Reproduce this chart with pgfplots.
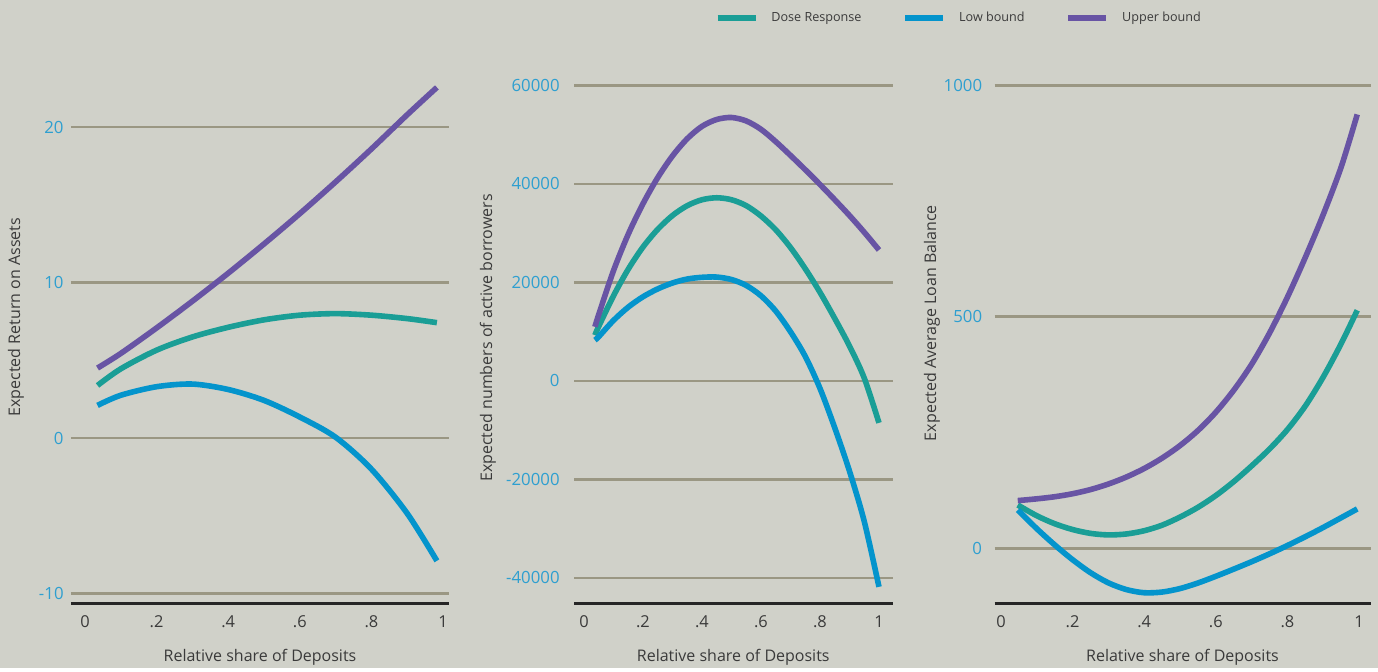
\documentclass[border=0pt]{standalone}
\usepackage{pgfplots}
\pgfplotsset{compat=1.18}
\usepackage{fontspec}
\setmainfont{Open Sans}
\definecolor{bgc}{HTML}{D0D1C9}
\definecolor{gridc}{HTML}{9A9783}
\definecolor{dose}{HTML}{1A9E96}
\definecolor{low}{HTML}{0494CC}
\definecolor{upp}{HTML}{6854A4}
\definecolor{ytc}{HTML}{2E9FD0}
\definecolor{txt}{HTML}{3A3A3A}
\pgfplotsset{
  panel/.style={
    scale only axis, height=267pt, anchor=south west,
    separate axis lines,
    axis x line*=bottom, axis y line*=left,
    x axis line style={-, line width=1.5pt, color=black!85},
    y axis line style={draw=none},
    major tick length=0pt,
    ymajorgrids, grid style={color=gridc, line width=1.3pt},
    xtick={0,0.2,0.4,0.6,0.8,1},
    xticklabels={0,.2,.4,.6,.8,1},
    xticklabel style={font=\fontsize{8.2}{9}\selectfont, text=txt, inner sep=0pt, anchor=north, yshift=-5.5pt},
    yticklabel style={font=\fontsize{8.4}{9}\selectfont, text=ytc, inner sep=0pt, anchor=east},
    scaled y ticks=false,
    xlabel={Relative share of Deposits},
    xlabel style={font=\fontsize{8}{9.5}\selectfont, text=txt, at={(axis description cs:0.5,-0.0993)}, anchor=center},
    ylabel style={font=\fontsize{8}{9.5}\selectfont, text=txt, anchor=center},
    every axis plot/.append style={line width=2.8pt, smooth},
    clip=false,
  }
}
\begin{document}
\begin{tikzpicture}
\fill[bgc] (0,0) rectangle (689pt,334pt);
% Panel 1
\begin{axis}[panel, at={(35.5pt,32pt)}, width=189pt,
  xmin=-0.0391, xmax=1.0168, ymin=-10.675, ymax=23.67,
  ytick={-10,0,10,20}, yticklabels={-10,0,10,20},
  yticklabel style={xshift=-3.5pt},
  ylabel={Expected Return on Assets},
  ylabel style={at={(axis description cs:-0.1455,0.537)}}]
\addplot[dose] coordinates {(0.035,3.38)(0.1,4.45)(0.2,5.65)(0.3,6.5)(0.4,7.12)(0.5,7.6)(0.6,7.9)(0.7,8.0)(0.8,7.9)(0.9,7.68)(0.983,7.42)};
\addplot[low] coordinates {(0.035,2.1)(0.1,2.75)(0.2,3.3)(0.3,3.47)(0.4,3.12)(0.5,2.42)(0.6,1.35)(0.7,0.05)(0.8,-2.0)(0.9,-4.85)(0.983,-7.9)};
\addplot[upp] coordinates {(0.035,4.5)(0.1,5.44)(0.2,7.08)(0.3,8.8)(0.4,10.6)(0.5,12.48)(0.6,14.43)(0.7,16.47)(0.8,18.59)(0.9,20.79)(0.983,22.55)};
\end{axis}
% Panel 2
\begin{axis}[panel, at={(287pt,32pt)}, width=159.25pt,
  xmin=-0.0339, xmax=1.0458, ymin=-45280, ymax=63150,
  ytick={-40000,-20000,0,20000,40000,60000},
  yticklabels={-40000,-20000,0,20000,40000,60000},
  yticklabel style={xshift=-7pt},
  ylabel={Expected numbers of active borrowers},
  ylabel style={at={(axis description cs:-0.27,0.498)}}]
\addplot[dose] coordinates {(0.037,9300)(0.05,11100)(0.1,17300)(0.15,22700)(0.2,27200)(0.25,30800)(0.3,33600)(0.35,35600)(0.4,36800)(0.45,37200)(0.5,36800)(0.55,35600)(0.6,33500)(0.65,30700)(0.7,27100)(0.75,22800)(0.8,18000)(0.85,12700)(0.9,7100)(0.95,600)(1.0,-8500)};
\addplot[low] coordinates {(0.037,8300)(0.05,9000)(0.1,12300)(0.15,15000)(0.2,17100)(0.25,18700)(0.3,19900)(0.35,20700)(0.4,21050)(0.45,21100)(0.5,20600)(0.55,19400)(0.6,17300)(0.65,14200)(0.7,10000)(0.75,5000)(0.8,-1500)(0.85,-9500)(0.9,-18300)(0.95,-28500)(1.0,-41800)};
\addplot[upp] coordinates {(0.037,11000)(0.05,13500)(0.1,22400)(0.15,29800)(0.2,36000)(0.25,41300)(0.3,45700)(0.35,49200)(0.4,51700)(0.45,53100)(0.5,53500)(0.55,52800)(0.6,51100)(0.65,48600)(0.7,45800)(0.75,42900)(0.8,39900)(0.85,36800)(0.9,33600)(0.95,30200)(1.0,26600)};
\end{axis}
% Panel 3
\begin{axis}[panel, at={(497.25pt,32pt)}, width=188pt,
  xmin=-0.018, xmax=1.032, ymin=-120.3, ymax=1033,
  ytick={0,500,1000}, yticklabels={0,500,1000},
  yticklabel style={xshift=-6pt},
  ylabel={Expected Average Loan Balance},
  ylabel style={at={(axis description cs:-0.166,0.526)}},
  legend columns=3,
  legend image code/.code={\draw[#1, line width=2.8pt] (0pt,0pt) -- (19pt,0pt);},
  legend style={at={(axis description cs:-0.745,1.097)}, anchor=west,
    draw=none, fill=none, inner sep=0pt, font=\fontsize{6.3}{8}\selectfont, text=txt,
    nodes={inner sep=0pt},
    /tikz/every odd column/.append style={column sep=6.5pt},
    /tikz/every even column/.append style={column sep=20.5pt}}]
\addplot[dose] coordinates {(0.047,93.5)(0.1,70.3)(0.15,53.1)(0.2,40.5)(0.25,32.2)(0.3,28.9)(0.35,30.9)(0.4,37.9)(0.45,49.9)(0.5,67.4)(0.55,88.4)(0.6,113.9)(0.65,143.9)(0.7,177.9)(0.75,214.4)(0.8,256.4)(0.85,307.4)(0.9,369.9)(0.95,441.9)(0.995,514)};
\addlegendentry{Dose Response}
\addplot[low] coordinates {(0.047,82.7)(0.1,42.4)(0.15,7.4)(0.2,-24.6)(0.25,-52.6)(0.3,-74.6)(0.35,-89.1)(0.4,-96)(0.45,-94.5)(0.5,-87)(0.55,-75)(0.6,-60.5)(0.65,-45)(0.7,-29)(0.75,-12)(0.8,6)(0.85,25)(0.9,45)(0.95,66)(0.995,85)};
\addlegendentry{Low bound}
\addplot[upp] coordinates {(0.047,103)(0.1,106.8)(0.15,111.3)(0.2,117.8)(0.25,126.8)(0.3,138.8)(0.35,153.8)(0.4,172.3)(0.45,194.8)(0.5,221.8)(0.55,254.3)(0.6,293.8)(0.65,341.3)(0.7,397.3)(0.75,464.8)(0.8,542.3)(0.85,628.3)(0.9,720.8)(0.95,823.3)(0.995,937)};
\addlegendentry{Upper bound}
\end{axis}
\end{tikzpicture}
\end{document}
